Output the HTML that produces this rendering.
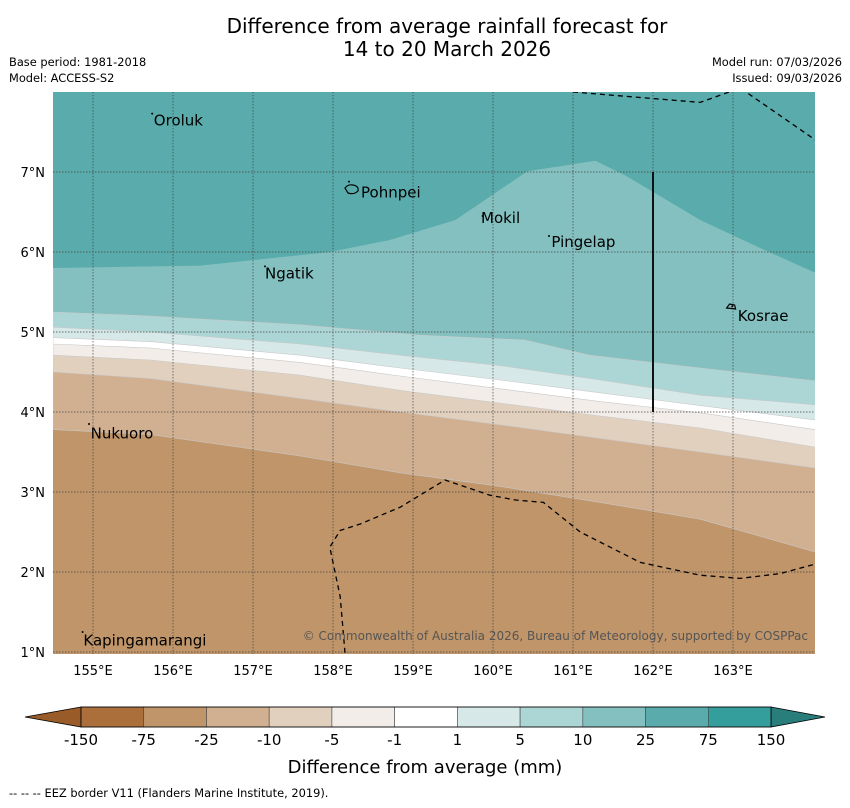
<!DOCTYPE html>
<html><head><meta charset="utf-8"><style>
body{margin:0;background:#fff;font-family:"DejaVu Sans","Liberation Sans",sans-serif}
svg text{font-family:"DejaVu Sans","Liberation Sans",sans-serif}
</style></head><body>
<svg id="c" width="850" height="804" xmlns="http://www.w3.org/2000/svg">
<text x="447" y="33" font-size="20" text-anchor="middle">Difference from average rainfall forecast for</text>
<text x="447" y="56" font-size="20" text-anchor="middle">14 to 20 March 2026</text>
<text x="9" y="66" font-size="11.4">Base period: 1981-2018</text>
<text x="9" y="82" font-size="11.4">Model: ACCESS-S2</text>
<text x="842" y="66" font-size="11.4" text-anchor="end">Model run: 07/03/2026</text>
<text x="842" y="82" font-size="11.4" text-anchor="end">Issued: 09/03/2026</text>
<defs><clipPath id="mc"><rect x="53" y="92" width="762" height="562"/></clipPath></defs>
<g id="map" clip-path="url(#mc)"></g>
<g id="over"></g>
<text x="808" y="640" font-size="12" fill="#555" text-anchor="end">© Commonwealth of Australia 2026, Bureau of Meteorology, supported by COSPPac</text>
<g id="cbar"></g>
<text x="425" y="773" font-size="18" text-anchor="middle">Difference from average (mm)</text>
<text x="9" y="797" font-size="11.4">--  --  -- EEZ border V11 (Flanders Marine Institute, 2019).</text>
</svg>
<script>
// data arrays
const lons = [154.5,155.71,157.59,158.84,160.09,161.34,162.59,164.03];
const c25lons = [154.5,155.71,157.59,159.09,160.4,161.21,162.59,164.03];
const c25 = [5.25,5.2,5.09,4.96,4.9,4.71,4.55,4.39];
const c10 = [5.06,5.0,4.85,4.71,4.58,4.4,4.21,4.09];
const c5  = [4.93,4.88,4.71,4.55,4.4,4.24,4.08,3.9];
const c1  = [4.85,4.8,4.62,4.45,4.29,4.13,3.99,3.78];
const cm1 = [4.71,4.65,4.46,4.27,4.11,3.95,3.8,3.56];
const cm5 = [4.5,4.42,4.17,4.0,3.84,3.67,3.5,3.3];
const cm10= [3.78,3.72,3.45,3.24,3.07,2.87,2.66,2.25];
const c75lons = [154.5,156.34,157.96,158.71,159.53,160.43,161.28,161.65,162.59,163.34,164.03];
const c75 = [5.8,5.83,6.0,6.15,6.4,7.01,7.14,6.96,6.4,6.05,5.74];
const eezS_lon=[158.15,158.09,157.96,158.09,158.34,158.84,159.4,159.96,160.28,160.63,161.09,161.84,162.59,163.09,163.59,164.03];
const eezS_lat=[0.99,1.69,2.31,2.52,2.6,2.81,3.15,2.96,2.9,2.87,2.5,2.12,1.96,1.92,1.98,2.1];
const eezN_lon=[161.0,162.59,163.09,164.03];
const eezN_lat=[8.0,7.87,8.05,7.4];
const islands=[["Oroluk",155.76,7.58,155.74,7.73],["Pohnpei",158.35,6.68,158.2,6.88],["Mokil",159.85,6.36,159.87,6.45],["Pingelap",160.73,6.06,160.7,6.2],["Ngatik",157.15,5.67,157.15,5.82],["Kosrae",163.06,5.14,162.99,5.32],["Nukuoro",154.97,3.67,154.95,3.85],["Kapingamarangi",154.88,1.08,154.87,1.25]];
const latTicks=[1,2,3,4,5,6,7];
const lonTicks=[155,156,157,158,159,160,161,162,163];
const cbLabels=["-150","-75","-25","-10","-5","-1","1","5","10","25","75","150"];
const cbColors=["#ab6f3b","#c09569","#d1b091","#e2d0bf","#f2ede8","#ffffff","#d6e9e8","#acd6d5","#83c0bf","#5aabab","#339e9b"];
const NS="http://www.w3.org/2000/svg";
const X=l=>53+(l-154.5)*80, Y=a=>92+(8-a)*80;
function mk(t,a,p){const e=document.createElementNS(NS,t);for(const k in a)e.setAttribute(k,a[k]);(p||document.getElementById('map')).appendChild(e);return e;}
function line(ls,as){return ls.map((l,i)=>X(l)+','+Y(as[i])).join(' ');}
const bandOrder=[[c75lons,c75,"#5aabab","band-25-75"],[c25lons,c25,"#83c0bf","band-10-25"],[lons,c10,"#acd6d5","band-5-10"],[lons,c5,"#d6e9e8","band-1-5"],[lons,c1,"#ffffff","band-neutral"],[lons,cm1,"#f2ede8","band-minus1-5"],[lons,cm5,"#e2d0bf","band-minus5-10"],[lons,cm10,"#d1b091","band-minus10-25"]];
let bg=mk('rect',{x:53,y:92,width:762,height:562,fill:"#c09569"});


for(let i=bandOrder.length-1;i>=0;i--){
  const [ls,as,col,nm]=bandOrder[i];
  const pts=line(ls,as)+` ${X(ls[ls.length-1])},80 ${X(ls[0])},80`;
  const p=mk('polygon',{points:pts,fill:col,stroke:i>0?"#c8c8c8":"none","stroke-width":0.6});
  
  
}
latTicks.forEach(a=>{const g=mk('line',{x1:53,x2:815,y1:Y(a),y2:Y(a),stroke:"#444","stroke-width":0.7,"stroke-dasharray":"1.5,1.5"});});
lonTicks.forEach(l=>{const g=mk('line',{x1:X(l),x2:X(l),y1:92,y2:654,stroke:"#444","stroke-width":0.7,"stroke-dasharray":"1.5,1.5"});});
let e1=mk('polyline',{points:line(eezS_lon,eezS_lat),fill:"none",stroke:"#000","stroke-width":1.3,"stroke-dasharray":"5,4"});


let e2=mk('polyline',{points:line(eezN_lon,eezN_lat),fill:"none",stroke:"#000","stroke-width":1.3,"stroke-dasharray":"5,4"});


let vl=mk('line',{x1:X(162),x2:X(162),y1:Y(7),y2:Y(4),stroke:"#111","stroke-width":2});


islands.forEach(([n,lo,la,mlo,mla])=>{
  const d=mk('circle',{cx:X(mlo),cy:Y(mla),r:1,fill:"#000"});
  
  
  const t=mk('text',{x:X(lo),y:Y(la),"font-size":15,fill:"#000"});t.textContent=n;
  
  
});
let po=mk('path',{d:`M${X(158.15)},${Y(6.8)} q3,-4 8,-3 q6,1 5,6 q-4,4 -10,2 z`,fill:"none",stroke:"#000","stroke-width":1.2});


let ko=mk('path',{d:`M${X(162.92)},${Y(5.3)} l3,-4 l5,1 l1,4 z`,fill:"none",stroke:"#000","stroke-width":1.2});


const ov=document.getElementById('over');
latTicks.forEach(a=>{const t=mk('text',{x:45,y:Y(a)+5,"font-size":13,"text-anchor":"end"},ov);t.textContent=a+'°N';});
lonTicks.forEach(l=>{const t=mk('text',{x:X(l),y:675,"font-size":13,"text-anchor":"middle"},ov);t.textContent=l+'°E';});
const cb=document.getElementById('cbar');const cx0=81,cw=62.73,cy=707,ch=20;
let lt=mk('polygon',{points:`${cx0},${cy} 25,${cy+ch/2} ${cx0},${cy+ch}`,fill:"#995b27",stroke:"#000","stroke-width":0.8},cb);


let rt=mk('polygon',{points:`${cx0+11*cw},${cy} 825,${cy+ch/2} ${cx0+11*cw},${cy+ch}`,fill:"#297d7a",stroke:"#000","stroke-width":0.8},cb);


cbColors.forEach((c,i)=>{const r=mk('rect',{x:cx0+i*cw,y:cy,width:cw,height:ch,fill:c,stroke:"#444","stroke-width":0.6},cb);});
mk('rect',{x:cx0,y:cy,width:11*cw,height:ch,fill:"none",stroke:"#000","stroke-width":0.8},cb);
cbLabels.forEach((s,i)=>{const t=mk('text',{x:cx0+i*cw,y:745,"font-size":15,"text-anchor":"middle"},cb);t.textContent=s;});
</script>
</body></html>
